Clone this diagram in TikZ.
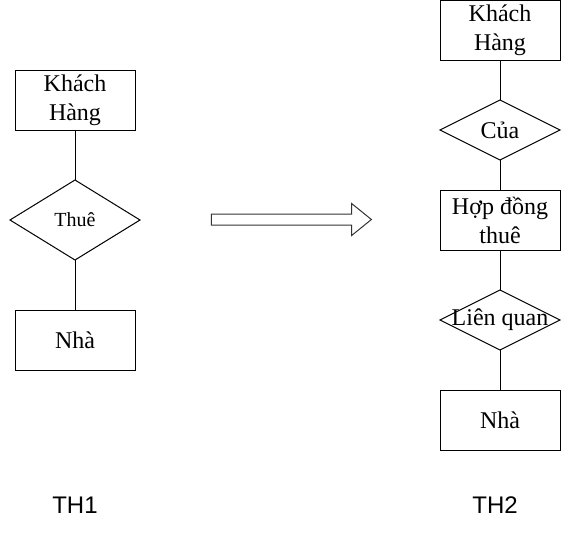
\documentclass[tikz,border=0pt]{standalone}
\usepackage{fontspec}
\setmainfont{Liberation Serif}
\newfontfamily\casefont{Liberation Sans}
\usetikzlibrary{shapes.geometric, shapes.arrows, positioning}
\tikzset{
	entity/.style={rectangle, draw=black, line width=0.75pt, minimum width=90pt, minimum height=45pt, inner sep=0pt, outer sep=0pt, align=center, font=\fontsize{18}{21.75}\selectfont},
	relation/.style={diamond, draw=black, line width=0.75pt, minimum width=90pt, minimum height=45pt, inner sep=0pt, outer sep=0pt, font=\fontsize{18}{21.75}\selectfont},
	bigarrow/.style={single arrow, draw=black!80, line width=0.75pt, minimum height=120pt, inner xsep=0pt, inner ysep=3.75pt, single arrow head extend=7.875pt, single arrow tip angle=78},
	caselabel/.style={font=\casefont\fontsize{18}{21.75}\selectfont},
	link/.style={line width=0.75pt}
}

\begin{document}
\begin{tikzpicture}[x=0.75pt, y=-0.75pt]
	\useasboundingbox (0,0) rectangle (571,551);

	% TH1
	\node (kh1) [entity] at (75,100) {Khách\\Hàng};
	\node (thue) [relation, below=37.5pt of kh1, minimum width=97.5pt, minimum height=60pt, font=\fontsize{15}{18}\selectfont] {Thuê};
	\node (nha1) [entity, below=37.5pt of thue] {Nhà};
	\draw [link] (kh1) -- (thue);
	\draw [link] (thue) -- (nha1);

	% TH2
	\node (kh2) [entity] at (500,30) {Khách\\Hàng};
	\node (cua) [relation, below=30pt of kh2] {Của};
	\node (hopdong) [entity, below=22.5pt of cua] {Hợp đồng\\thuê};
	\node (lienquan) [relation, below=30pt of hopdong] {\makebox[0pt]{Liên quan}};
	\node (nha2) [entity, below=30pt of lienquan] {Nhà};
	\draw [link] (kh2) -- (cua);
	\draw [link] (cua) -- (hopdong);
	\draw [link] (hopdong) -- (lienquan);
	\draw [link] (lienquan) -- (nha2);

	% Chuyen doi
	\node (chuyen) [bigarrow] at (288,219.5) {};

	\node (th1) [caselabel] at (75,505) {TH1};
	\node (th2) [caselabel] at (495,505) {TH2};
\end{tikzpicture}
\end{document}
